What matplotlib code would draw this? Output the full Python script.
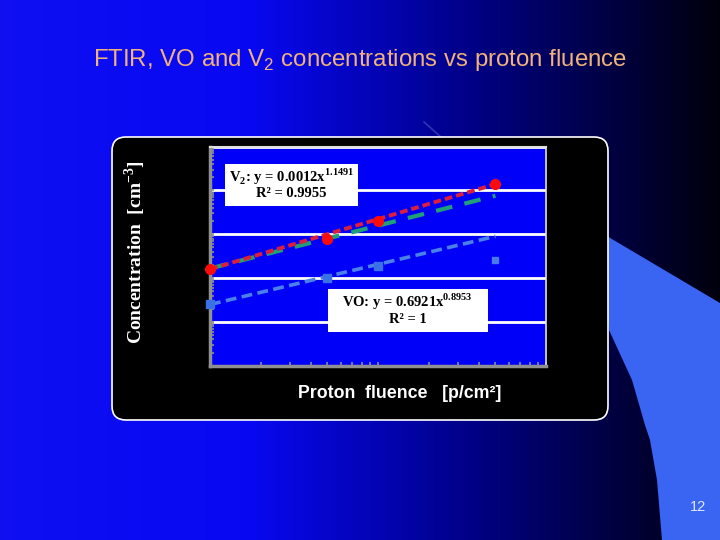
import matplotlib.pyplot as plt
import numpy as np
from matplotlib.patches import FancyBboxPatch, Polygon, Rectangle

plt.rcParams['mathtext.fontset'] = 'custom'
plt.rcParams['mathtext.rm'] = 'Liberation Sans'
plt.rcParams['mathtext.bf'] = 'Liberation Serif:bold'

# proton fluence [p/cm2]
fluence = [1e14, 5e14, 1e15, 5e15]
# V2 concentration [cm-3]
v2 = [1.6e13, 7.8e13, 2.0e14, 1.4e15]
# VO concentration [cm-3] (last point is off the fit)
vo = [2.5e12, 9.9e12, 1.9e13]
vo_extra_x = [5e15]
vo_extra = [2.6e13]
# trend lines (end points)
fit_x = [1e14, 5e15]
v2_fit = [1.6e13, 1.4e15]
vo_fit = [2.5e12, 9.0e13]
ref_fit = [1.66e13, 7.6e14]

W, H = 720, 540
fig = plt.figure(figsize=(7.2, 5.4), dpi=100)

# slide background, drawn in pixel coordinates
bg = fig.add_axes([0, 0, 1, 1])
bg.set_xlim(0, W)
bg.set_ylim(H, 0)
bg.axis('off')
xs = np.linspace(0, W, 400)
b = np.clip(0.95 - 0.9 * (xs - 250) / 470, 0.05, 0.95)
b[xs < 250] = 0.95
rg = np.clip(0.06 - 0.06 * xs / 500, 0, 0.06)
grad = np.stack([rg, rg, b], axis=-1)[None, :, :]
bg.imshow(grad, extent=[0, W, H, 0], aspect='auto', zorder=0)

shape = Polygon([(600, 232), (720, 303), (720, 540), (662, 540), (657, 480),
                 (650, 440), (645, 425), (632, 380), (609, 330)],
                closed=True, facecolor='#3a64f2', edgecolor='none', zorder=1)
bg.add_patch(shape)
bg.plot([424, 442], [122, 138], color='#5a66c8', lw=1.2, alpha=0.5, zorder=1)

box = FancyBboxPatch((112, 137), 496, 283, boxstyle='round,pad=0,rounding_size=14',
                     facecolor='black', edgecolor='white', lw=1.2, zorder=2)
bg.add_patch(box)

bg.text(360, 60, 'FTIR, VO and V$_2$ concentrations vs proton fluence',
        color='#f2b27a', fontsize=17.3, family='Liberation Sans',
        ha='center', va='center', zorder=3)
bg.text(400, 394, 'Proton  fluence   [p/cm²]', color='white', fontsize=12.8,
        family='Liberation Sans', fontweight='bold', ha='center', va='center', zorder=3)
bg.text(135, 252, r'Concentration  [cm$^{\mathbf{-3}}$]', color='white', fontsize=14,
        family='Liberation Serif', fontweight='bold', rotation=90,
        ha='center', va='center', zorder=3)
bg.text(698, 507, '12', color='#e0e8ff', fontsize=10.5, family='Liberation Sans',
        ha='center', va='center', zorder=3)

# the chart
ax = fig.add_axes([210 / W, 1 - 365.7 / H, 336 / W, 219 / H])
ax.set_facecolor('#0000f8')
ax.set_xscale('log')
ax.set_yscale('log')
ax.set_xlim(1e14, 1e16)
ax.set_ylim(1e11, 1e16)

ax.plot(fit_x, ref_fit, color='#1fa078', lw=3, linestyle=(0, (4, 3)), zorder=3)
ax.plot(fit_x, v2_fit, color='#dc1e3c', lw=2.8, linestyle=(0, (2, 1)), zorder=4)
ax.plot(fit_x, vo_fit, color='#4a80ea', lw=2.6, linestyle=(0, (3, 1.5)), zorder=3)
ax.plot(fluence, v2, 'o', color='#ff0a0a', ms=7, zorder=5, clip_on=False)
ax.plot(fluence[:3], vo, 's', color='#3a72e6', ms=5.5, zorder=5, clip_on=False)
ax.plot(vo_extra_x, vo_extra, 's', color='#4a78ee', ms=4.5, zorder=5)

ax.grid(True, which='major', axis='y', color='white', lw=2)
ax.set_axisbelow(True)
ax.tick_params(which='both', direction='in', colors='#909090',
               labelleft=False, labelbottom=False)
ax.tick_params(which='major', length=3, width=1.2)
ax.tick_params(which='minor', length=3, width=1.2)
ax.spines['left'].set_color('#909090')
ax.spines['bottom'].set_color('#909090')
ax.spines['left'].set_linewidth(2.5)
ax.spines['bottom'].set_linewidth(2.5)
ax.spines['top'].set_color('#e0e0e0')
ax.spines['right'].set_color('#e0e0e0')
ax.spines['top'].set_linewidth(1.5)
ax.spines['right'].set_linewidth(1.2)

# equation boxes
ax.add_patch(Rectangle((0.045, 0.731), 0.395, 0.19, transform=ax.transAxes,
                       facecolor='white', edgecolor='none', zorder=6))
ax.text(0.242, 0.864, r'V$_{\mathbf{2}}$: y = 0.0012x$^{\mathbf{1.1491}}$',
        transform=ax.transAxes, ha='center', va='center', fontsize=10.5,
        family='Liberation Serif', fontweight='bold', color='black', zorder=7)
ax.text(0.242, 0.788, 'R² = 0.9955', transform=ax.transAxes, ha='center',
        va='center', fontsize=10.5, family='Liberation Serif', fontweight='bold',
        color='black', zorder=7)

ax.add_patch(Rectangle((0.351, 0.155), 0.475, 0.194, transform=ax.transAxes,
                       facecolor='white', edgecolor='none', zorder=6))
ax.text(0.588, 0.292, r'VO: y = 0.6921x$^{\mathbf{0.8953}}$',
        transform=ax.transAxes, ha='center', va='center', fontsize=10.5,
        family='Liberation Serif', fontweight='bold', color='black', zorder=7)
ax.text(0.588, 0.212, 'R² = 1', transform=ax.transAxes, ha='center',
        va='center', fontsize=10.5, family='Liberation Serif', fontweight='bold',
        color='black', zorder=7)

fig.savefig('out.png', dpi=100)
